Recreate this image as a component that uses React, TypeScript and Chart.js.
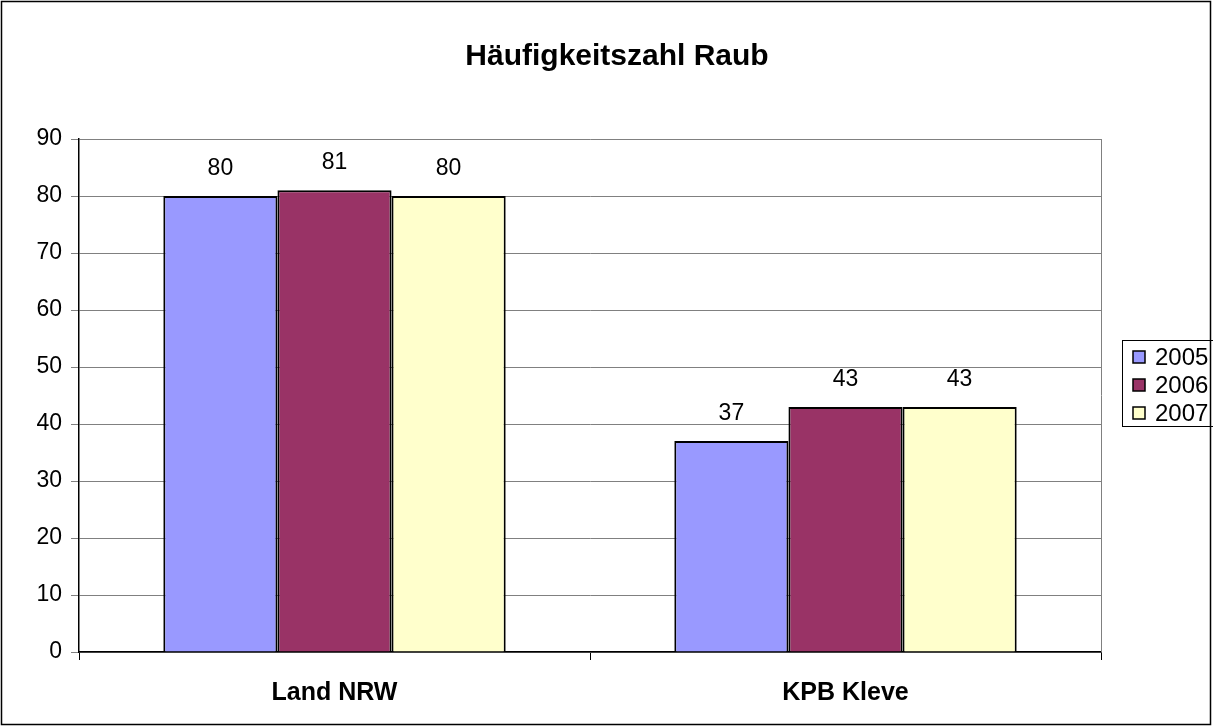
import React, { useEffect, useRef } from "react";
import { Chart, registerables } from "chart.js";

Chart.register(...registerables);

const chartTitle = "Häufigkeitszahl Raub";
const categories = ["Land NRW", "KPB Kleve"];
const seriesLabels = ["2005", "2006", "2007"];
const values2005 = [80, 37];
const values2006 = [81, 43];
const values2007 = [80, 43];
const seriesColors = ["#9999FF", "#993366", "#FFFFCC"];
const yMin = 0;
const yMax = 90;
const yStep = 10;

const FONT = "'Liberation Sans', Arial, sans-serif";

const decorPlugin = {
  id: "decor",
  afterDatasetsDraw(chart: any) {
    const ctx = chart.ctx;
    ctx.save();
    ctx.font = `23px ${FONT}`;
    ctx.fillStyle = "#000";
    ctx.textAlign = "center";
    ctx.textBaseline = "alphabetic";
    chart.data.datasets.forEach((ds: any, i: number) => {
      const meta = chart.getDatasetMeta(i);
      meta.data.forEach((el: any, j: number) => {
        ctx.fillText(String(ds.data[j]), el.x, el.y - 21);
      });
    });
    ctx.restore();
  },
  afterDraw(chart: any) {
    const ctx = chart.ctx;
    const a = chart.chartArea;
    ctx.save();
    // plot area right border
    ctx.strokeStyle = "#808080";
    ctx.lineWidth = 1;
    ctx.beginPath();
    ctx.moveTo(Math.round(a.right) + 0.5, a.top);
    ctx.lineTo(Math.round(a.right) + 0.5, a.bottom);
    ctx.stroke();

    // title
    ctx.fillStyle = "#000";
    ctx.font = `bold 30px ${FONT}`;
    ctx.textAlign = "center";
    ctx.textBaseline = "middle";
    ctx.fillText(chartTitle, 617, 57);

    // legend
    const lx = 1122.5, ly = 340.5, lw = 100, lh = 86;
    ctx.fillStyle = "#fff";
    ctx.fillRect(lx, ly, lw, lh);
    ctx.strokeStyle = "#000";
    ctx.lineWidth = 1;
    ctx.strokeRect(lx, ly, lw, lh);
    ctx.font = `24px ${FONT}`;
    ctx.textAlign = "left";
    chart.data.datasets.forEach((ds: any, i: number) => {
      const cy = 357 + i * 28;
      ctx.fillStyle = ds.backgroundColor;
      ctx.fillRect(1133, cy - 6, 12, 12);
      ctx.strokeStyle = "#000";
      ctx.lineWidth = 1.5;
      ctx.strokeRect(1133, cy - 6, 12, 12);
      ctx.fillStyle = "#000";
      ctx.fillText(ds.label, 1155, cy + 1);
    });

    // outer border
    ctx.strokeStyle = "#000";
    ctx.lineWidth = 1.5;
    ctx.strokeRect(1.5, 1.5, 1209, 723);
    ctx.restore();
  },
};

export default function App() {
  const ref = useRef<HTMLCanvasElement | null>(null);
  useEffect(() => {
    if (!ref.current) return;
    const datasets = [values2005, values2006, values2007].map((vals, i) => ({
      label: seriesLabels[i],
      data: vals,
      backgroundColor: seriesColors[i],
      borderColor: "#000",
      borderWidth: 2,
      borderSkipped: "bottom" as const,
      categoryPercentage: 0.67,
      barPercentage: 1,
    }));
    const chart = new Chart(ref.current, {
      type: "bar",
      data: { labels: categories, datasets },
      options: {
        responsive: false,
        animation: false,
        layout: { padding: { top: 139, right: 112, left: 0, bottom: 0 } },
        plugins: {
          legend: { display: false },
          title: { display: false },
          tooltip: { enabled: false },
        },
        scales: {
          x: {
            type: "category",
            offset: true,
            grid: {
              offset: true,
              drawOnChartArea: false,
              drawTicks: true,
              tickLength: 8,
              color: "#000",
            },
            border: { display: true, color: "#000", width: 1.5 },
            ticks: {
              color: "#000",
              font: { family: FONT, size: 25, weight: "bold" },
              padding: 18,
              maxRotation: 0,
            },
            afterFit(scale: any) {
              scale.height = 75;
            },
          },
          y: {
            min: yMin,
            max: yMax,
            grid: { color: "#808080", lineWidth: 1, tickLength: 8 },
            border: { display: true, color: "#000", width: 1.5 },
            ticks: {
              stepSize: yStep,
              color: "#000",
              font: { family: FONT, size: 23 },
              padding: 9,
            },
            afterFit(scale: any) {
              scale.width = 79;
            },
          },
        },
      },
      plugins: [decorPlugin],
    });
    return () => chart.destroy();
  }, []);
  return (
    <div style={{ position: "absolute", left: 0, top: 0, width: 1213, height: 727, background: "#fff" }}>
      <canvas ref={ref} width={1213} height={727} style={{ display: "block" }} />
    </div>
  );
}
